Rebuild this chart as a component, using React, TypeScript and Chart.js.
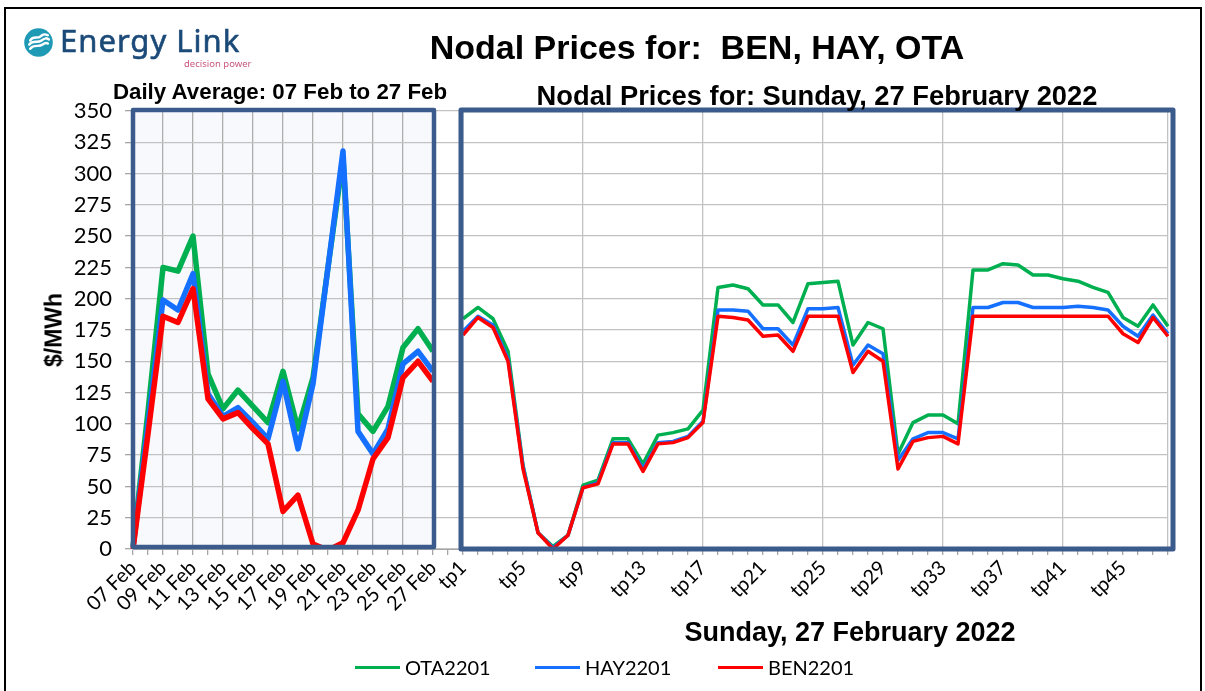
import React, { useEffect, useRef } from 'react';
import { Chart, registerables } from 'chart.js';

Chart.register(...registerables);

const dayLabels = [
  '07 Feb', '08 Feb', '09 Feb', '10 Feb', '11 Feb', '12 Feb', '13 Feb',
  '14 Feb', '15 Feb', '16 Feb', '17 Feb', '18 Feb', '19 Feb', '20 Feb',
  '21 Feb', '22 Feb', '23 Feb', '24 Feb', '25 Feb', '26 Feb', '27 Feb',
];
const tpLabels = [
  'tp1', 'tp2', 'tp3', 'tp4', 'tp5', 'tp6', 'tp7', 'tp8', 'tp9', 'tp10',
  'tp11', 'tp12', 'tp13', 'tp14', 'tp15', 'tp16', 'tp17', 'tp18', 'tp19', 'tp20',
  'tp21', 'tp22', 'tp23', 'tp24', 'tp25', 'tp26', 'tp27', 'tp28', 'tp29', 'tp30',
  'tp31', 'tp32', 'tp33', 'tp34', 'tp35', 'tp36', 'tp37', 'tp38', 'tp39', 'tp40',
  'tp41', 'tp42', 'tp43', 'tp44', 'tp45', 'tp46', 'tp47', 'tp48',
];
const yTicks = [0, 25, 50, 75, 100, 125, 150, 175, 200, 225, 250, 275, 300, 325, 350];

// Daily averages 07 Feb .. 27 Feb
const otaDaily = [2, 110, 225, 222, 250, 140, 112, 127, 114, 101, 142, 96, 137, 225, 312, 108, 94, 114, 161, 176, 158];
const hayDaily = [1, 100, 199, 191, 220, 124, 106, 113, 101, 88, 134, 80, 132, 225, 318, 94, 76, 96, 148, 158, 142];
const benDaily = [0, 92, 186, 181, 208, 120, 104, 109, 96, 84, 30, 43, 4, -1, 5, 31, 72, 89, 137, 150, 134];

// Trading periods, Sunday 27 February 2022
const otaTp = [
  184, 193, 184, 158, 67, 13, 2, 11, 51, 55,
  88, 88, 68, 91, 93, 96, 111, 209, 211, 208,
  195, 195, 181, 212, 213, 214, 163, 181, 176, 76,
  101, 107, 107, 100, 223, 223, 228, 227, 219, 219,
  216, 214, 209, 205, 185, 178, 195, 178,
];
const hayTp = [
  174, 186, 179, 152, 66, 13, 1, 11, 49, 53,
  85, 85, 64, 85, 86, 90, 102, 191, 191, 190,
  176, 176, 163, 192, 192, 193, 147, 163, 156, 71,
  88, 93, 93, 88, 193, 193, 197, 197, 193, 193,
  193, 194, 193, 191, 178, 170, 187, 172,
];
const benTp = [
  171, 185, 177, 150, 64, 13, 0, 11, 49, 52,
  84, 84, 62, 84, 85, 89, 101, 186, 185, 183,
  170, 171, 158, 186, 186, 186, 141, 158, 150, 64,
  86, 89, 90, 84, 186, 186, 186, 186, 186, 186,
  186, 186, 186, 186, 172, 165, 185, 170,
];

const seriesNames = ['OTA2201', 'HAY2201', 'BEN2201'];
const GREEN = '#00B050';
const BLUE = '#1570FF';
const RED = '#FF0000';
const BOX = '#3B5B8C';

const GAP = 1;
const nDays = dayLabels.length;
const tpStart = nDays + GAP;
const categories = [...dayLabels, '', ...tpLabels];

const leftSeries = (vals: number[]) => [...vals, ...Array(GAP + tpLabels.length).fill(null)];
const rightSeries = (vals: number[]) => [...Array(tpStart).fill(null), ...vals];

const tickLabel = (i: number) => {
  if (i < nDays) return i % 2 === 0 ? dayLabels[i] : '';
  if (i >= tpStart) return (i - tpStart) % 4 === 0 ? tpLabels[i - tpStart] : '';
  return '';
};

const gridColorFor = (i: number) => {
  if (i < nDays) return i % 2 === 0 ? '#AEAEAE' : 'rgba(0,0,0,0)';
  if (i >= tpStart) {
    const k = i - tpStart;
    if (k % 8 === 0 || i === categories.length - 1) return '#C2C2C2';
  }
  return 'rgba(0,0,0,0)';
};

const panelPlugin = {
  id: 'panels',
  beforeDraw(chart: any) {
    const { ctx, chartArea, scales } = chart;
    const x = scales.x;
    const l = x.getPixelForValue(0);
    const r = x.getPixelForValue(nDays - 1);
    ctx.save();
    ctx.fillStyle = '#F7F9FC';
    ctx.fillRect(l, chartArea.top, r - l, chartArea.bottom - chartArea.top);
    ctx.restore();
  },
  afterDatasetsDraw(chart: any) {
    const { ctx, chartArea, scales } = chart;
    const x = scales.x;
    const top = chartArea.top - 1;
    const bottom = chartArea.bottom;
    ctx.save();
    ctx.strokeStyle = BOX;
    ctx.lineJoin = 'round';
    const l1 = x.getPixelForValue(0);
    const r1 = x.getPixelForValue(nDays - 1) + 1;
    ctx.lineWidth = 4.5;
    ctx.strokeRect(l1, top, r1 - l1, bottom - 2 - top);
    const l2 = x.getPixelForValue(tpStart) - 2;
    const r2 = x.getPixelForValue(categories.length - 1) + 5;
    ctx.lineWidth = 5;
    ctx.strokeRect(l2, top, r2 - l2, bottom - top);
    ctx.restore();
  },
};

const lineDs = (label: string, data: (number | null)[], color: string, width: number, order: number) => ({
  label,
  data,
  borderColor: color,
  backgroundColor: color,
  borderWidth: width,
  pointRadius: 0,
  pointHoverRadius: 0,
  tension: 0,
  spanGaps: false,
  fill: false,
  order,
  borderJoinStyle: 'round' as const,
});

export default function App() {
  const ref = useRef<HTMLCanvasElement | null>(null);

  useEffect(() => {
    if (!ref.current) return;
    const chart = new Chart(ref.current, {
      type: 'line',
      data: {
        labels: categories,
        datasets: [
          lineDs(seriesNames[0], leftSeries(otaDaily), GREEN, 5.5, 2),
          lineDs(seriesNames[1], leftSeries(hayDaily), BLUE, 5.5, 1),
          lineDs(seriesNames[2], leftSeries(benDaily), RED, 5.5, 0),
          lineDs(seriesNames[0], rightSeries(otaTp), GREEN, 3.5, 2),
          lineDs(seriesNames[1], rightSeries(hayTp), BLUE, 3.5, 1),
          lineDs(seriesNames[2], rightSeries(benTp), RED, 3.5, 0),
        ],
      },
      options: {
        responsive: false,
        animation: false,
        devicePixelRatio: 1,
        layout: { padding: { top: 111, right: 37, bottom: 0, left: 0 } },
        plugins: {
          legend: { display: false },
          tooltip: { enabled: false },
          title: { display: false },
        },
        events: [],
        scales: {
          x: {
            type: 'category',
            offset: false,
            grid: {
              color: (c: any) => gridColorFor(c.index),
              lineWidth: 1.3,
              tickColor: '#A6A6A6',
              tickLength: 6,
            },
            border: { color: '#A6A6A6', width: 1 },
            ticks: {
              autoSkip: false,
              maxRotation: 45,
              minRotation: 45,
              padding: 1,
              color: '#000',
              font: { family: 'Lato', size: 20 },
              callback: (_v: any, i: number) => tickLabel(i),
            },
            afterFit: (s: any) => {
              s.height = 142;
            },
          },
          y: {
            min: yTicks[0],
            max: yTicks[yTicks.length - 1],
            afterBuildTicks: (s: any) => {
              s.ticks = yTicks.map((v) => ({ value: v }));
            },
            grid: { color: '#C2C2C2', lineWidth: 1.3, tickLength: 8, tickColor: '#A6A6A6' },
            border: { color: '#A6A6A6', width: 1 },
            ticks: {
              padding: 13,
              color: '#000',
              font: { family: 'Lato', size: 22 },
            },
            afterFit: (s: any) => {
              s.width = 133;
            },
          },
        },
      },
      plugins: [panelPlugin],
    });
    return () => chart.destroy();
  }, []);

  const abs = (extra: React.CSSProperties): React.CSSProperties => ({
    position: 'absolute',
    whiteSpace: 'pre',
    lineHeight: 1,
    ...extra,
  });

  const legendItems = [
    { name: seriesNames[0], color: GREEN, x: 355 },
    { name: seriesNames[1], color: BLUE, x: 535 },
    { name: seriesNames[2], color: RED, x: 718 },
  ];

  return (
    <div style={{ position: 'fixed', left: 0, top: 0, width: 1205, height: 691, background: '#fff', overflow: 'hidden' }}>
      <div style={{ position: 'absolute', left: 4, top: 7, width: 1194, height: 700, border: '2px solid #000' }} />
      <canvas ref={ref} width={1205} height={691} style={{ position: 'absolute', left: 0, top: 0, width: 1205, height: 691 }} />

      {/* logo */}
      <svg style={{ position: 'absolute', left: 24, top: 28 }} width={29} height={29} viewBox="0 0 28 28">
        <circle cx={14} cy={14} r={13.8} fill="#1E9AB5" />
        <path d="M6 12 C9 7, 13 11, 16 8 S21 6, 23 7" stroke="#fff" strokeWidth={2.4} fill="none" strokeLinecap="round" />
        <path d="M5 16 C9 11, 13 15, 17 12 S22 10, 24 11" stroke="#fff" strokeWidth={2.4} fill="none" strokeLinecap="round" />
        <path d="M6 20 C10 15, 14 19, 18 16 S22 15, 23 15" stroke="#fff" strokeWidth={2.4} fill="none" strokeLinecap="round" />
      </svg>
      <div style={abs({ left: 60, top: 25, fontFamily: 'Noto Sans', fontSize: 31, letterSpacing: 1, color: '#1B4A78', WebkitTextStroke: '0.6px #1B4A78' })}>Energy Link</div>
      <div style={abs({ left: 184, top: 59, fontFamily: 'Noto Sans', fontSize: 9.5, color: '#C8577F' })}>decision power</div>

      {/* titles */}
      <div style={abs({ left: 697, top: 30, transform: 'translateX(-50%)', fontFamily: 'Liberation Sans', fontWeight: 'bold', fontSize: 34, color: '#000' })}>{'Nodal Prices for:  BEN, HAY, OTA'}</div>
      <div style={abs({ left: 280, top: 81, transform: 'translateX(-50%)', fontFamily: 'Liberation Sans', fontWeight: 'bold', fontSize: 22.3, color: '#000' })}>{`Daily Average: ${dayLabels[0]} to ${dayLabels[nDays - 1]}`}</div>
      <div style={abs({ left: 817, top: 82, transform: 'translateX(-50%)', fontFamily: 'Liberation Sans', fontWeight: 'bold', fontSize: 27.3, color: '#000' })}>Nodal Prices for: Sunday, 27 February 2022</div>
      <div style={abs({ left: 850, top: 619, transform: 'translateX(-50%)', fontFamily: 'Liberation Sans', fontWeight: 'bold', fontSize: 27, color: '#000' })}>Sunday, 27 February 2022</div>
      <div style={abs({ left: 54, top: 330, transform: 'translate(-50%, -50%) rotate(-90deg)', fontFamily: 'Liberation Sans', fontWeight: 'bold', fontSize: 23, color: '#000' })}>$/MWh</div>

      {/* legend */}
      {legendItems.map((it) => (
        <React.Fragment key={it.name}>
          <div style={{ position: 'absolute', left: it.x, top: 666, width: 45, height: 3, background: it.color }} />
          <div style={abs({ left: it.x + 50, top: 657, fontFamily: 'Lato', fontSize: 20, color: '#000' })}>{it.name}</div>
        </React.Fragment>
      ))}
    </div>
  );
}
